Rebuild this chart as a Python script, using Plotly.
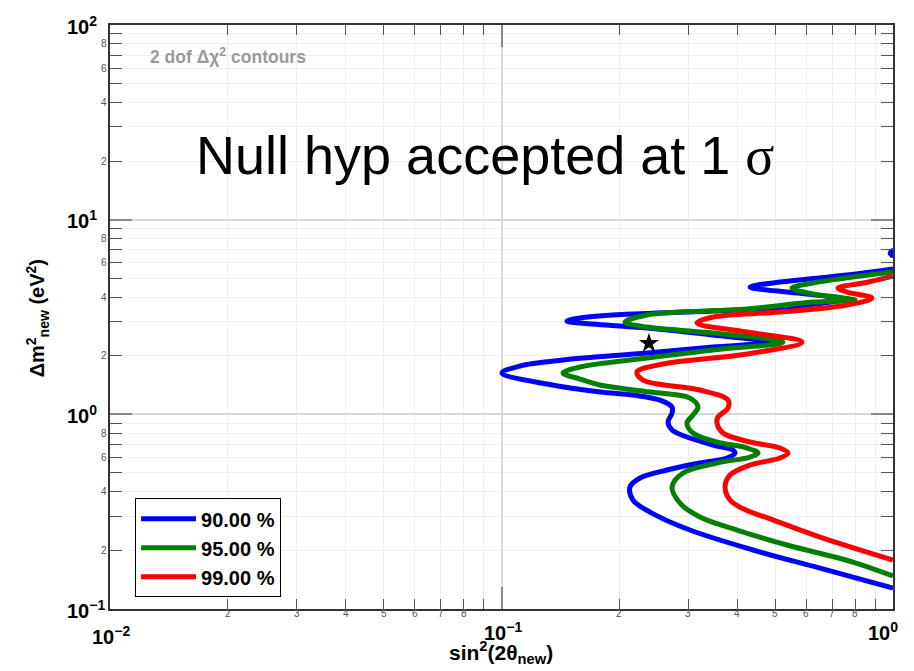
import math
import plotly.graph_objects as go

# ---- data ----
blue_x = [1.0, 0.651, 0.439, 0.303, 0.2395, 0.2167, 0.2129, 0.2259, 0.2647, 0.3213,
          0.3767, 0.3949, 0.3903, 0.3468, 0.2977, 0.2727, 0.2663, 0.2727, 0.2727, 0.2540,
          0.2167, 0.1785, 0.1307, 0.1003, 0.1115, 0.1436, 0.2352,
          0.3468, 0.4852, 0.3468, 0.2352, 0.1587, 0.147, 0.1587, 0.1926, 0.3468, 0.5686,
          0.7453, 0.5686, 0.4313, 0.5146, 0.763, 1.0]
blue_y = [0.128, 0.162, 0.201, 0.2545, 0.3148, 0.3629, 0.4232, 0.4708, 0.5174, 0.5623,
          0.5963, 0.6326, 0.6556, 0.6957, 0.7646, 0.8307, 0.9130, 1.016, 1.090, 1.184,
          1.256, 1.302, 1.431, 1.630, 1.771, 1.900, 2.064,
          2.216, 2.351, 2.555, 2.775, 2.943, 3.014, 3.123, 3.236, 3.393, 3.599,
          3.911, 4.198, 4.506, 4.781, 5.193, 5.576]

green_x = [1.0, 0.790, 0.536, 0.3995, 0.3213, 0.2857, 0.2727, 0.2908, 0.3551, 0.4313,
           0.4521, 0.4238, 0.3551, 0.3084, 0.2977, 0.3084, 0.3176, 0.3030, 0.2395, 0.1785,
           0.1587, 0.1436, 0.1587, 0.2352, 0.3468,
           0.5236, 0.3468, 0.2352, 0.2067, 0.2352, 0.4238, 0.6248, 0.7995, 0.6248, 0.552,
           0.6248, 1.0]
green_y = [0.1477, 0.1743, 0.2132, 0.2545, 0.2969, 0.3503, 0.4232, 0.4994, 0.5623, 0.6034,
           0.6326, 0.6715, 0.7208, 0.8017, 0.9022, 0.9918, 1.090, 1.212, 1.302, 1.414,
           1.518, 1.630, 1.750, 1.946, 2.139,
           2.351, 2.616, 2.808, 2.979, 3.236, 3.474, 3.774, 3.864, 4.149, 4.454,
           4.726, 5.382]

red_x = [1.0, 0.651, 0.4852, 0.4141, 0.3835, 0.3724, 0.3835, 0.4313, 0.5146, 0.5393,
         0.5146, 0.4313, 0.3680, 0.3551, 0.3573, 0.3789, 0.3789, 0.3213, 0.2299, 0.2219,
         0.2585, 0.4238, 0.5856, 0.4238,
         0.3158, 0.3468, 0.5146, 0.763, 0.884, 0.763, 0.7235, 0.8386, 1.0]
red_y = [0.1785, 0.2343, 0.2907, 0.3270, 0.3629, 0.4232, 0.4877, 0.5490, 0.5963, 0.6326,
         0.6715, 0.7208, 0.8017, 0.9022, 0.9685, 1.077, 1.184, 1.333, 1.500, 1.649,
         1.813, 2.040, 2.351, 2.646,
         2.943, 3.160, 3.353, 3.642, 3.957, 4.248, 4.454, 4.726, 5.131]

blob_x = [1.0, 0.988, 0.978, 0.988, 1.0]
blob_y = [7.05, 6.95, 6.74, 6.52, 6.45]

best_fit_x = [0.238]
best_fit_y = [2.32]

series_names = ["90.00 %", "95.00 %", "99.00 %"]
series_colors = ["#0000ff", "#008000", "#ff0000"]

x_decades = [-2, -1, 0]
y_decades = [-1, 0, 1, 2]
x_minor_digits = [2, 3, 4, 5, 6, 7, 8]
y_minor_digits = [2, 4, 6, 8]

FONT = "Liberation Sans"

fig = go.Figure()
for xs, ys, name, col in zip([blue_x, green_x, red_x], [blue_y, green_y, red_y],
                             series_names, series_colors):
    fig.add_trace(go.Scatter(x=xs, y=ys, mode="lines", name=name,
                             line=dict(color=col, width=5, shape="spline", smoothing=1.0)))
fig.add_trace(go.Scatter(x=blob_x, y=blob_y, mode="lines", showlegend=False,
                         fill="toself", fillcolor=series_colors[0],
                         line=dict(color=series_colors[0], width=3, shape="spline")))
fig.add_trace(go.Scatter(x=best_fit_x, y=best_fit_y, mode="markers", showlegend=False,
                         marker=dict(symbol="star", size=15, color="black")))

x_minor_vals = [m * 10 ** d for d in x_decades[:-1] for m in range(2, 10)]
y_minor_vals = [m * 10 ** d for d in y_decades[:-1] for m in range(2, 10)]

fig.update_xaxes(type="log", range=[-2, 0], showticklabels=False,
                 tickvals=[10 ** d for d in x_decades], ticks="inside", ticklen=22,
                 tickwidth=2, tickcolor="#888",
                 showline=True, linecolor="#333", linewidth=2, mirror="allticks",
                 showgrid=True, gridcolor="#d8d8d8", gridwidth=2, zeroline=False,
                 minor=dict(tickmode="array", tickvals=x_minor_vals, ticks="inside",
                            ticklen=10, tickcolor="#555", tickwidth=1,
                            showgrid=True, gridcolor="#eeeeee", gridwidth=1))
fig.update_yaxes(type="log", range=[-1, 2], showticklabels=False,
                 tickvals=[10 ** d for d in y_decades], ticks="inside", ticklen=22,
                 tickwidth=2, tickcolor="#888",
                 showline=True, linecolor="#333", linewidth=2, mirror="allticks",
                 showgrid=True, gridcolor="#d8d8d8", gridwidth=2, zeroline=False,
                 minor=dict(tickmode="array", tickvals=y_minor_vals, ticks="inside",
                            ticklen=12, tickcolor="#555", tickwidth=1,
                            showgrid=True, gridcolor="#eeeeee", gridwidth=1))

ann = []
# y major labels (left aligned like the original)
for d in y_decades:
    sup = str(d).replace("-", "\u2212")
    ann.append(dict(xref="paper", yref="y", x=-0.0575, y=d, xanchor="left", yanchor="middle",
                    text=f"<b>10<sup>{sup}</sup></b>", showarrow=False,
                    font=dict(size=20, color="black", family=FONT)))
# x major labels
x_lab_pos = {-2: -0.0255, -1: 0.475, 0: 0.9655}
x_lab_y = {-2: -0.046, -1: -0.038, 0: -0.038}
for d in x_decades:
    sup = str(d).replace("-", "\u2212")
    ann.append(dict(xref="paper", yref="paper", x=x_lab_pos[d], y=x_lab_y[d],
                    xanchor="left", yanchor="middle",
                    text=f"<b>10<sup>{sup}</sup></b>", showarrow=False,
                    font=dict(size=20, color="black", family=FONT)))
# minor digit labels
for d in x_decades[:-1]:
    for m in x_minor_digits:
        ann.append(dict(xref="x", yref="paper", x=math.log10(m * 10 ** d), y=-0.007,
                        xanchor="center", yanchor="middle", text=str(m), showarrow=False,
                        font=dict(size=10, color="#555", family=FONT)))
for d in y_decades[:-1]:
    for m in y_minor_digits:
        ann.append(dict(xref="paper", yref="y", x=-0.001, y=math.log10(m * 10 ** d),
                        xanchor="right", yanchor="middle", text=str(m), showarrow=False,
                        font=dict(size=10, color="#555", family=FONT)))
# axis titles
ann.append(dict(xref="paper", yref="paper", x=0.4994, y=-0.074, xanchor="center",
                yanchor="middle", showarrow=False,
                text="<b>sin<sup>2</sup>(2\u03b8<sub>new</sub>)</b>",
                font=dict(size=21, color="black", family=FONT)))
ann.append(dict(xref="paper", yref="paper", x=-0.093, y=0.498, xanchor="center",
                yanchor="middle", showarrow=False, textangle=-90,
                text="<b>\u0394m<sup>2</sup><sub>new</sub> (eV<sup>2</sup>)</b>",
                font=dict(size=20, color="black", family=FONT)))
# in-plot texts
ann.append(dict(xref="paper", yref="paper", x=0.0485, y=0.947, xanchor="left",
                yanchor="middle", showarrow=False,
                text="<b>2 dof \u0394\u03c7<sup>2</sup> contours</b>",
                font=dict(size=17.5, color="#999", family=FONT)))
ann.append(dict(xref="paper", yref="paper", x=0.479, y=0.777, xanchor="center",
                yanchor="middle", showarrow=False,
                text="Null hyp accepted at 1 <span style=\"font-family:'Liberation Serif'\">\u03c3</span>",
                font=dict(size=54, color="black", family=FONT)))

# the page body has an 8px margin; size the figure so the plot lands where the original's does
fig.update_layout(
    width=906, height=663,
    margin=dict(l=102, r=21, t=17, b=62),
    paper_bgcolor="white", plot_bgcolor="white",
    font=dict(family=FONT, color="black"),
    annotations=ann,
    legend=dict(x=0.032, y=0.02, xanchor="left", yanchor="bottom",
                bgcolor="white", bordercolor="black", borderwidth=1, itemwidth=55,
                font=dict(size=20, color="black", family=FONT, weight="bold")),
)

fig.write_html("out.html")
